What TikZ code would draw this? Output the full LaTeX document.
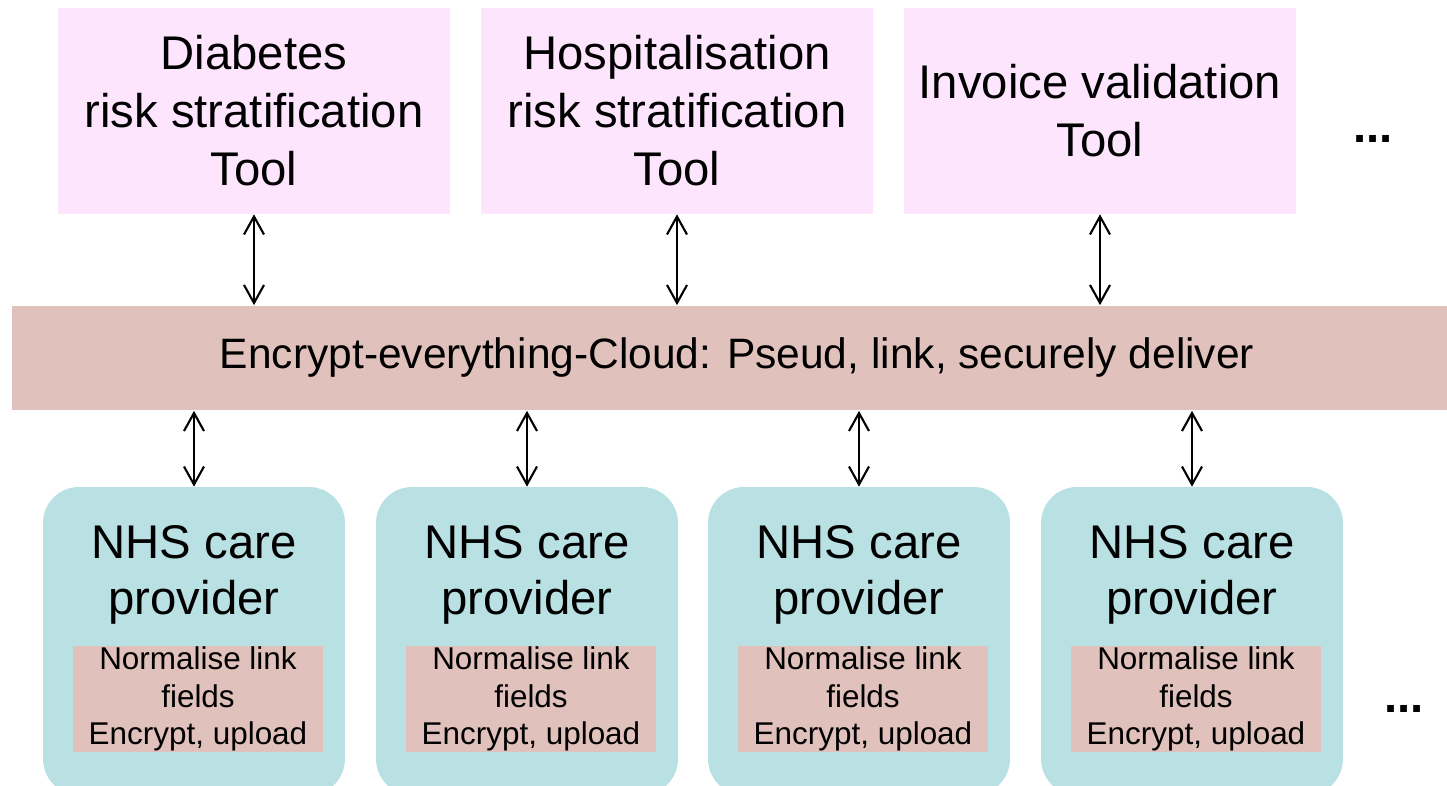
\documentclass[tikz,border=0pt]{standalone}
\usepackage{fontspec}
\setmainfont{Liberation Sans}
\usetikzlibrary{arrows.meta}
\definecolor{ferramenta} {rgb}{0.996078431,0.898039216,0.996078431}
\definecolor{nuvem}      {rgb}{0.878431373,0.756862745,0.733333333}
\definecolor{provedor}   {rgb}{0.725490196,0.878431373,0.890196078}

\begin{document}
\begin{tikzpicture}[x=0.02cm,y=-0.02cm,
      toolbox/.style={fill=ferramenta,minimum width=7.84cm,minimum height=4.12cm,inner sep=0pt,align=center,font=\fontsize{26.9}{33}\selectfont},
      cloudbar/.style={fill=nuvem,minimum width=29cm,minimum height=2.1cm,inner sep=0pt,font=\fontsize{24.2}{29}\selectfont},
      carebox/.style={fill=provedor,rounded corners=0.72cm,minimum width=6.04cm,minimum height=6.16cm,inner sep=0pt},
      caretext/.style={anchor=north,inner sep=0pt,align=center,font=\fontsize{26.9}{31.9}\selectfont},
      taskbox/.style={fill=nuvem,minimum width=5cm,minimum height=2.12cm,inner sep=0pt,align=center,font=\fontsize{17.9}{21.3}\selectfont},
      moredots/.style={inner sep=0pt,font=\fontsize{26.9}{33}\selectfont\bfseries},
      linkarrow/.style={{Straight Barb[length=0.36cm,width=0.4cm]}-{Straight Barb[length=0.36cm,width=0.4cm]},line width=1.2pt}]
                  \useasboundingbox (0,0) rectangle (1447,786);
                  % tools on top
                  \node[toolbox] (diab) at (254,111) {Diabetes\\risk stratification\\Tool};
                  \node[toolbox] (hosp) at (677,111) {Hospitalisation\\risk stratification\\Tool};
                  \node[toolbox] (invo) at (1100,111) {Invoice validation\\Tool};
                  \node[moredots] (moretools) at (1373,139) {...};
                  % cloud
                  \node[cloudbar] (cloud) at (737,358) {Encrypt-everything-Cloud: Pseud, link, securely deliver};
                  % care providers
                  \node[carebox] (prov1) at (194,641) {};
                  \node[carebox] (prov2) at (527,641) {};
                  \node[carebox] (prov3) at (859,641) {};
                  \node[carebox] (prov4) at (1192,641) {};
                  \node[caretext] (name1) at (194,525) {NHS care\\provider};
                  \node[caretext] (name2) at (527,525) {NHS care\\provider};
                  \node[caretext] (name3) at (859,525) {NHS care\\provider};
                  \node[caretext] (name4) at (1192,525) {NHS care\\provider};
                  \node[taskbox] (task1) at (198,699) {Normalise link\\fields\\Encrypt, upload};
                  \node[taskbox] (task2) at (531,699) {Normalise link\\fields\\Encrypt, upload};
                  \node[taskbox] (task3) at (863,699) {Normalise link\\fields\\Encrypt, upload};
                  \node[taskbox] (task4) at (1196,699) {Normalise link\\fields\\Encrypt, upload};
                  \node[moredots] (moreprov) at (1404,709) {...};
                  % arrows
                  \draw[linkarrow] (diab.south) -- (diab.south |- cloud.north);
                  \draw[linkarrow] (hosp.south) -- (hosp.south |- cloud.north);
                  \draw[linkarrow] (invo.south) -- (invo.south |- cloud.north);
                  \draw[linkarrow] (prov1.north |- cloud.south) -- (prov1.north);
                  \draw[linkarrow] (prov2.north |- cloud.south) -- (prov2.north);
                  \draw[linkarrow] (prov3.north |- cloud.south) -- (prov3.north);
                  \draw[linkarrow] (prov4.north |- cloud.south) -- (prov4.north);
            \end{tikzpicture}
\end{document}
